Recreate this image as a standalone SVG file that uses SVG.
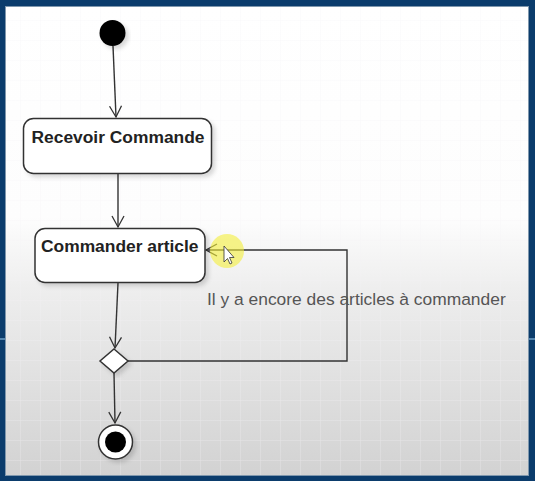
<svg xmlns="http://www.w3.org/2000/svg" width="535" height="481" viewBox="0 0 535 481">
<defs>
<linearGradient id="bg" x1="0" y1="0" x2="0" y2="1">
<stop offset="0" stop-color="#ffffff"/>
<stop offset="0.45" stop-color="#fdfdfd"/>
<stop offset="0.6" stop-color="#eeeeee"/>
<stop offset="1" stop-color="#d2d2d2"/>
</linearGradient>
<filter id="sh" x="-20%" y="-20%" width="140%" height="140%">
<feDropShadow dx="3" dy="3" stdDeviation="2" flood-color="#000" flood-opacity="0.15"/>
</filter>
<marker id="arr" markerWidth="14" markerHeight="14" refX="12" refY="7" orient="auto" markerUnits="userSpaceOnUse">
<path d="M1,1 L12,7 L1,13" fill="none" stroke="#333" stroke-width="1.3"/>
</marker>
<pattern id="grid" width="20" height="20" patternUnits="userSpaceOnUse">
<path d="M20,0 L0,0 L0,20" fill="none" stroke="#f3f1f5" stroke-width="1"/>
</pattern>
</defs>
<style>
.node{fill:#ffffff;stroke:#333;stroke-width:1.5}
.lbl{font-family:"Liberation Sans",Arial,sans-serif;font-weight:bold;font-size:17.4px;fill:#222}
.edge{fill:none;stroke:#333;stroke-width:1.4}
.guard{font-family:"Liberation Sans",Arial,sans-serif;font-size:17.4px;fill:#555}
</style>
<rect x="0" y="0" width="535" height="481" fill="#0b3c6c"/>
<rect x="5" y="6" width="524" height="470" fill="url(#bg)"/>
<rect x="5" y="6" width="524" height="470" fill="url(#grid)" opacity="0.5"/>
<rect x="5.5" y="6.5" width="523" height="469" fill="none" stroke="#7f97ad" stroke-width="1"/>
<line x1="0" y1="339" x2="5" y2="339" stroke="#6fa0c8" stroke-width="1.5"/>
<line x1="529" y1="339" x2="535" y2="339" stroke="#6fa0c8" stroke-width="1.5"/>

<g id="connectors">
<path class="edge" d="M113,46 L116,117" marker-end="url(#arr)"/>
<path class="edge" d="M118,174 L118,227" marker-end="url(#arr)"/>
<path class="edge" d="M118,283 L115,348" marker-end="url(#arr)"/>
<path class="edge" d="M114,373 L115,423" marker-end="url(#arr)"/>
<path class="edge" d="M128,361 L347,361 L347,250 L206,250" marker-end="url(#arr)"/>
<text class="guard" x="207" y="305">Il y a encore des articles à commander</text>
</g>

<g id="start">
<circle cx="112.5" cy="33" r="13" fill="#000" filter="url(#sh)"/>
</g>

<g id="recevoir">
<rect class="node" x="23.5" y="118.5" width="188" height="55" rx="10" filter="url(#sh)"/>
<text class="lbl" x="118" y="143" text-anchor="middle">Recevoir Commande</text>
</g>

<g id="commander">
<rect class="node" x="35" y="228.5" width="170" height="54" rx="10" filter="url(#sh)"/>
<text class="lbl" x="41" y="251.5">Commander article</text>
</g>

<g id="decision">
<path class="node" d="M114,349 L128,361 L114,373 L100,361 Z" filter="url(#sh)"/>
</g>

<g id="end">
<circle cx="115.5" cy="442" r="17" fill="#fff" stroke="#333" stroke-width="1.5" filter="url(#sh)"/>
<circle cx="115.5" cy="442" r="10.5" fill="#000"/>
</g>

<g id="cursor">
<circle cx="227" cy="251" r="17" fill="#f3ee3a" opacity="0.6"/>
<path d="M224,246 L224,262 L227.5,258.5 L230,264 L232,263 L229.5,257.5 L234,257.5 Z" fill="#fff" stroke="#333" stroke-width="0.8"/>
</g>
</svg>
